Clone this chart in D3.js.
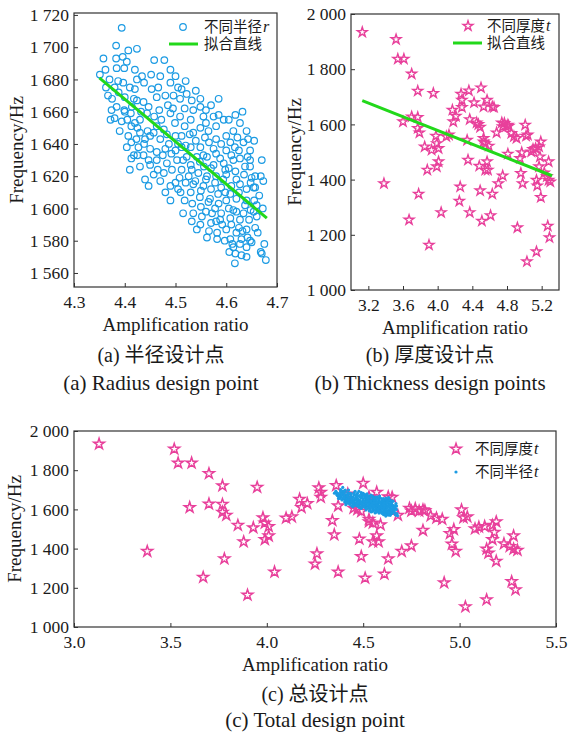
<!DOCTYPE html>
<html>
<head>
<meta charset="utf-8">
<script src="https://cdn.jsdelivr.net/npm/d3@7"></script>
<style>
  body { margin: 0; background: #fff; }
  svg text { font-family: "Liberation Serif", "Times New Roman", "Noto Sans CJK SC", serif; fill: #1a1a1a; }
  .cjk { font-family: "Liberation Serif", "Noto Sans CJK SC", sans-serif; }
</style>
</head>
<body>
<svg id="chart" width="573" height="745"></svg>
<script>
// design points with different radius r: [amplification ratio, frequency]
var radiusPoints = [
  [4.394,1712],[4.383,1701],[4.358,1693],[4.383,1693],[4.396,1694],[4.407,1698],[4.424,1699],
  [4.384,1687],[4.399,1687],[4.404,1691],[4.351,1683],[4.37,1680],[4.367,1670],[4.363,1675],
  [4.38,1675],[4.387,1679],[4.397,1678],[4.41,1675],[4.42,1674],[4.42,1686],[4.434,1682],
  [4.438,1678],[4.424,1680],[4.374,1661],[4.384,1663],[4.399,1661],[4.372,1655],[4.38,1656],
  [4.394,1654],[4.414,1663],[4.424,1667],[4.437,1666],[4.412,1659],[4.405,1655],[4.42,1653],
  [4.43,1655],[4.413,1651],[4.447,1663],[4.444,1659],[4.407,1645],[4.413,1641],[4.423,1643],
  [4.404,1638],[4.43,1647],[4.427,1638],[4.44,1643],[4.413,1631],[4.41,1624],[4.437,1633],
  [4.425,1633],
  [4.458,1692],[4.47,1682],[4.478,1692],[4.49,1686],[4.49,1678],[4.5,1682],[4.52,1679],
  [4.466,1675],[4.453,1674],[4.463,1669],[4.48,1670],[4.496,1670],[4.509,1668],[4.512,1674],
  [4.532,1667],[4.535,1661],[4.549,1668],[4.549,1663],[4.56,1661],[4.49,1659],[4.509,1657],
  [4.499,1653],[4.518,1651],[4.53,1655],[4.463,1651],[4.457,1647],[4.477,1649],[4.45,1645],
  [4.47,1643],[4.483,1646],[4.5,1645],[4.512,1645],[4.535,1647],[4.549,1650],[4.56,1653],
  [4.575,1657],[4.585,1658],
  [4.45,1637],[4.463,1635],[4.48,1637],[4.5,1636],[4.512,1638],[4.53,1638],[4.549,1638],
  [4.566,1641],[4.58,1643],[4.6,1645],[4.614,1648],[4.627,1653],[4.45,1627],[4.463,1630],
  [4.483,1628],[4.503,1630],[4.522,1632],[4.542,1632],[4.562,1632],[4.58,1634],[4.6,1636],
  [4.617,1638],[4.634,1641],[4.457,1621],[4.447,1614],[4.477,1622],[4.493,1624],[4.512,1624],
  [4.532,1624],[4.556,1626],[4.575,1627],[4.595,1628],[4.614,1630],[4.627,1631],[4.647,1636],
  [4.643,1643],[4.47,1617],[4.49,1605],[4.5,1616],[4.52,1616],[4.539,1617],[4.56,1618],
  [4.58,1620],[4.6,1621],[4.618,1623],[4.637,1626],[4.647,1630],[4.51,1610],[4.53,1610],
  [4.55,1611],[4.57,1612],[4.59,1613],[4.61,1614],[4.627,1615],[4.65,1619],[4.668,1620],
  [4.654,1613],[4.67,1630],
  [4.515,1597],[4.533,1603],[4.55,1601],[4.565,1604],[4.585,1603],[4.6,1605],[4.62,1606],
  [4.64,1605],[4.66,1602],[4.535,1597],[4.552,1595],[4.572,1597],[4.59,1597],[4.614,1599],
  [4.634,1597],[4.654,1598],[4.532,1592],[4.549,1590],[4.57,1591],[4.588,1593],[4.608,1594],
  [4.627,1593],[4.645,1593],[4.542,1587],[4.562,1582],[4.582,1585],[4.6,1587],[4.62,1585],
  [4.64,1587],[4.657,1588],[4.582,1581],[4.608,1581],[4.627,1578],[4.614,1576],[4.64,1576],
  [4.65,1579],[4.606,1573],[4.63,1571],[4.67,1572],[4.64,1570],[4.617,1566],[4.678,1568],
  [4.668,1573],[4.647,1580],[4.63,1581],[4.657,1613],[4.673,1617],[4.647,1626],[4.657,1620],
  [4.452,1683],[4.468,1661],[4.485,1664],[4.472,1655],[4.495,1662],[4.458,1657],[4.487,1640],
  [4.475,1633],[4.492,1634],[4.465,1624],
  [4.505,1675],[4.522,1671],[4.54,1673],[4.518,1662],[4.528,1646],[4.505,1640],[4.52,1639],
  [4.54,1642],[4.515,1630],[4.53,1627],[4.548,1629],[4.508,1619],[4.526,1620],[4.545,1622],
  [4.518,1605],[4.535,1615],[4.548,1607],[4.505,1612],[4.49,1614],[4.48,1610],
  [4.555,1657],[4.57,1664],[4.585,1668],[4.565,1648],[4.58,1651],[4.595,1655],[4.558,1644],
  [4.575,1637],[4.59,1640],[4.555,1633],[4.57,1625],[4.588,1631],[4.598,1624],[4.562,1620],
  [4.578,1616],[4.594,1618],[4.555,1614],[4.568,1606],[4.584,1609],[4.598,1610],[4.56,1598],
  [4.578,1600],[4.592,1590],[4.566,1586],[4.58,1592],[4.597,1580],
  [4.605,1655],[4.618,1658],[4.632,1660],[4.608,1641],[4.622,1644],[4.64,1648],[4.61,1633],
  [4.625,1636],[4.642,1632],[4.605,1625],[4.62,1618],[4.635,1621],[4.648,1616],[4.608,1609],
  [4.625,1610],[4.64,1612],[4.605,1600],[4.62,1598],[4.637,1602],[4.648,1599],[4.61,1590],
  [4.625,1588],[4.642,1582],[4.612,1578],[4.632,1586],[4.618,1572],
  [4.655,1642],[4.665,1608],[4.66,1595],[4.672,1600],[4.662,1585],[4.675,1578],[4.655,1605],
  [4.362,1686],[4.375,1668],[4.388,1672],[4.40,1669],[4.418,1668],[4.432,1660],[4.445,1648],
  [4.39,1648],[4.40,1660],[4.425,1650],[4.438,1640],[4.418,1633],[4.43,1626],[4.447,1630],
  [4.44,1618]
];

// design points with different thickness t: [amplification ratio, frequency]
var thicknessPoints = [
  [3.13,1934],[3.38,1386],[3.52,1908],[3.54,1837],[3.61,1837],[3.60,1610],[3.67,1254],[3.70,1783],
  [3.70,1628],[3.77,1721],[3.77,1626],[3.77,1586],[3.79,1570],[3.78,1348],[3.85,1519],[3.88,1435],
  [3.90,1163],[3.93,1507],[3.95,1713],[3.98,1558],[3.99,1531],[4.01,1513],[3.99,1447],[4.01,1465],
  [4.04,1281],[4.10,1556],[4.13,1562],[4.17,1652],[4.18,1610],[4.21,1630],[4.26,1374],[4.25,1322],
  [4.27,1710],[4.28,1688],[4.28,1662],[4.34,1543],[4.35,1471],[4.36,1722],[4.37,1618],[4.37,1281],
  [4.42,1679],[4.45,1606],[4.47,1600],[4.48,1449],[4.49,1360],[4.50,1733],[4.49,1590],[4.51,1250],
  [4.53,1550],[4.53,1537],[4.53,1664],[4.55,1531],[4.55,1435],[4.57,1688],[4.57,1465],[4.58,1435],
  [4.59,1522],[4.61,1270],[4.63,1664],[4.65,1662],[4.63,1348],[4.68,1570],[4.70,1386],[4.75,1414],
  [4.74,1606],[4.75,1592],[4.77,1604],[4.79,1592],[4.81,1493],[4.81,1598],[4.82,1594],[4.85,1568],
  [4.88,1556],[4.91,1550],[4.92,1226],[4.95,1477],[4.97,1498],[4.96,1423],[4.98,1386],[5.01,1598],
  [5.02,1558],[5.03,1103],[5.04,1562],[5.08,1501],[5.10,1510],[5.13,1513],[5.14,1398],[5.15,1378],
  [5.14,1139],[5.17,1519],[5.19,1537],[5.19,1336],[5.18,1483],[5.17,1447],[5.23,1425],[5.26,1411],
  [5.27,1232],[5.28,1465],[5.29,1190],[5.30,1392],[5.28,1398]
];

// fitted straight lines (end points)
var fitRadius = [[4.35,1681],[4.68,1594]];
var fitThickness = [[3.13,1686],[5.32,1414]];

// tick values
var ticksAx = [4.3,4.4,4.5,4.6,4.7];
var ticksAy = [1560,1580,1600,1620,1640,1660,1680,1700,1720];
var ticksBx = [3.2,3.6,4.0,4.4,4.8,5.2];
var ticksBy = [1000,1200,1400,1600,1800,2000];
var ticksCx = [3.0,3.5,4.0,4.5,5.0,5.5];
var ticksCy = [1000,1200,1400,1600,1800,2000];

var blue = "#1c9be3";
var pink = "#e8409b";
var green = "#22d81a";

var svg = d3.select("#chart");
var fmtY = d3.formatLocale({decimal: ".", thousands: " ", grouping: [3], currency: ["", ""]}).format(",");
var fmtX = d3.format(".1f");
var star = d3.symbol().type(d3.symbolStar);

function panel(p) {
  var x = d3.scaleLinear().domain(p.xDomain).range([p.left, p.right]);
  var y = d3.scaleLinear().domain(p.yDomain).range([p.bottom, p.top]);
  var g = svg.append("g");

  var xAxis = g.append("g")
    .attr("transform", `translate(0,${p.bottom})`)
    .call(d3.axisBottom(x).tickValues(p.xTicks).tickSize(-4).tickPadding(9).tickFormat(fmtX));
  var yAxis = g.append("g")
    .attr("transform", `translate(${p.left},0)`)
    .call(d3.axisLeft(y).tickValues(p.yTicks).tickSize(-4).tickPadding(5).tickFormat(fmtY));
  [xAxis, yAxis].forEach(function (a) {
    a.select(".domain").remove();
    a.selectAll("line").attr("stroke", "#333");
    a.selectAll("text").style("font-size", "17.5px").attr("fill", "#1a1a1a");
  });

  g.append("rect")
    .attr("x", p.left).attr("y", p.top)
    .attr("width", p.right - p.left).attr("height", p.bottom - p.top)
    .attr("fill", "none").attr("stroke", "#333").attr("stroke-width", 1.2);

  // axis titles
  g.append("text")
    .attr("x", (p.left + p.right) / 2).attr("y", p.bottom + 44)
    .attr("text-anchor", "middle").style("font-size", "19px")
    .text("Amplification ratio");
  g.append("text")
    .attr("transform", `translate(${p.ylabelX},${(p.top + p.bottom) / 2}) rotate(-90)`)
    .attr("text-anchor", "middle").style("font-size", "19px")
    .text("Frequency/Hz");

  return {x: x, y: y, g: g};
}

function caption(cx, y1, y2, zh, en) {
  svg.append("text").attr("class", "cjk").attr("x", cx).attr("y", y1)
    .attr("text-anchor", "middle").style("font-size", "20px").text(zh);
  svg.append("text").attr("x", cx).attr("y", y2)
    .attr("text-anchor", "middle").style("font-size", "21px").text(en);
}

// legend label: chinese part + italic latin symbol as separate texts
function legendText(g, x, y, zh, it) {
  var t = g.append("text").attr("x", x).attr("y", y + 5)
    .style("font-size", "14.5px")
    .style("font-family", "'Liberation Serif', 'Noto Sans CJK SC', sans-serif")
    .text(zh);
  if (it) {
    var w = t.node().getComputedTextLength();
    g.append("text").attr("x", x + w + 1).attr("y", y + 5)
      .style("font-size", "16px").style("font-style", "italic")
      .text(it);
  }
}

var line = function (sx, sy) {
  return d3.line().x(d => sx(d[0])).y(d => sy(d[1]));
};

// ---- (a) radius design points
var A = panel({left: 74, right: 277, top: 13, bottom: 287,
  xDomain: [4.3, 4.7], yDomain: [1551.3, 1721.2], xTicks: ticksAx, yTicks: ticksAy, ylabelX: 23});

A.g.append("g").selectAll("circle")
  .data(radiusPoints)
  .enter()
  .append("circle")
  .attr("cx", d => A.x(d[0]))
  .attr("cy", d => A.y(d[1]))
  .attr("r", 3.3)
  .attr("fill", "none")
  .attr("stroke", blue)
  .attr("stroke-width", 1.2);

A.g.append("path").datum(fitRadius)
  .attr("d", line(A.x, A.y))
  .attr("stroke", green).attr("stroke-width", 3).attr("fill", "none");

A.g.append("circle").attr("cx", 183).attr("cy", 27).attr("r", 3.3)
  .attr("fill", "none").attr("stroke", blue).attr("stroke-width", 1.2);
legendText(A.g, 204, 27, "不同半径", "r");
A.g.append("line").attr("x1", 169).attr("x2", 198).attr("y1", 44).attr("y2", 44)
  .attr("stroke", green).attr("stroke-width", 3);
legendText(A.g, 204, 44, "拟合直线");

// ---- (b) thickness design points
var B = panel({left: 351, right: 559, top: 14, bottom: 290,
  xDomain: [3.0, 5.4], yDomain: [1000, 2000], xTicks: ticksBx, yTicks: ticksBy, ylabelX: 301});

B.g.append("g").selectAll("path")
  .data(thicknessPoints)
  .enter()
  .append("path")
  .attr("transform", d => `translate(${B.x(d[0])},${B.y(d[1])})`)
  .attr("d", star.size(30))
  .attr("fill", "none")
  .attr("stroke", pink)
  .attr("stroke-width", 1.4);

B.g.append("path").datum(fitThickness)
  .attr("d", line(B.x, B.y))
  .attr("stroke", green).attr("stroke-width", 3).attr("fill", "none");

B.g.append("path").attr("transform", "translate(468,26)").attr("d", star.size(30))
  .attr("fill", "none").attr("stroke", pink).attr("stroke-width", 1.4);
legendText(B.g, 487, 26, "不同厚度", "t");
B.g.append("line").attr("x1", 453).attr("x2", 482).attr("y1", 43).attr("y2", 43)
  .attr("stroke", green).attr("stroke-width", 3);
legendText(B.g, 487, 43, "拟合直线");

// ---- (c) total design points
var C = panel({left: 74, right: 556, top: 431, bottom: 627,
  xDomain: [3.0, 5.5], yDomain: [1000, 2000], xTicks: ticksCx, yTicks: ticksCy, ylabelX: 21});

C.g.append("g").selectAll("path")
  .data(thicknessPoints)
  .enter()
  .append("path")
  .attr("transform", d => `translate(${C.x(d[0])},${C.y(d[1])})`)
  .attr("d", star.size(36))
  .attr("fill", "none")
  .attr("stroke", pink)
  .attr("stroke-width", 1.5);

C.g.append("g").selectAll("circle")
  .data(radiusPoints)
  .enter()
  .append("circle")
  .attr("cx", d => C.x(d[0]))
  .attr("cy", d => C.y(d[1]))
  .attr("r", 1.6)
  .attr("fill", blue);

C.g.append("path").attr("transform", "translate(456,449)").attr("d", star.size(36))
  .attr("fill", "none").attr("stroke", pink).attr("stroke-width", 1.5);
legendText(C.g, 475, 449, "不同厚度", "t");
C.g.append("circle").attr("cx", 456).attr("cy", 472).attr("r", 1.6).attr("fill", blue);
legendText(C.g, 475, 472, "不同半径", "t");

// captions
caption(161, 362, 390, "(a) 半径设计点", "(a) Radius design point");
caption(430, 362, 390, "(b) 厚度设计点", "(b) Thickness design points");
caption(315, 701, 727, "(c) 总设计点", "(c) Total design point");
</script>
</body>
</html>
